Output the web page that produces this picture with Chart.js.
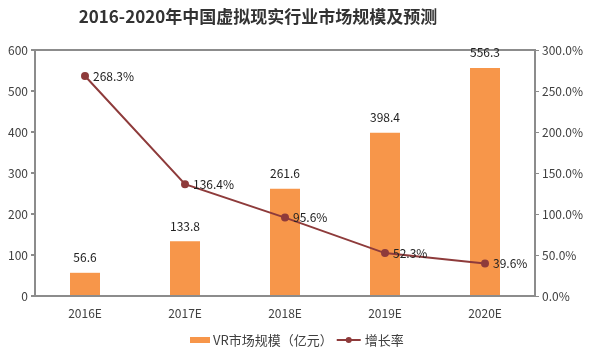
<!DOCTYPE html>
<html><head><meta charset="utf-8">
<script src="https://cdn.jsdelivr.net/npm/chart.js@4"></script>
<style>html,body{margin:0;padding:0;background:#fff;}#wrap{width:600px;height:355px;position:relative;}</style>
</head><body><div id="wrap"><canvas id="c" width="600" height="355"></canvas></div>
<script>
const categories = ["2016E", "2017E", "2018E", "2019E", "2020E"];
const marketSize = [56.6, 133.8, 261.6, 398.4, 556.3];
const growthRate = [268.3, 136.4, 95.6, 52.3, 39.6];
const titleText = "2016-2020年中国虚拟现实行业市场规模及预测";
const barLabel = "VR市场规模（亿元）";
const lineLabel = "增长率";

const FONT = '"Noto Sans CJK SC", "Noto Sans", sans-serif';
const BAR_COLOR = '#f7964a';
const LINE_COLOR = '#8e3b3b';
const AXIS_COLOR = '#8c8c8c';
const TEXT_COLOR = '#404040';

const deco = {
  id: 'deco',
  afterDatasetsDraw(chart) {
    const ctx = chart.ctx;
    ctx.save();
    const barMeta = chart.getDatasetMeta(0);
    ctx.font = '12px ' + FONT;
    ctx.fillStyle = '#222';
    ctx.textAlign = 'center';
    ctx.textBaseline = 'middle';
    barMeta.data.forEach((el, i) => {
      ctx.fillText(marketSize[i].toFixed(1), el.x, el.y - 15);
    });
    const lineMeta = chart.getDatasetMeta(1);
    ctx.textAlign = 'left';
    lineMeta.data.forEach((el, i) => {
      ctx.fillText(growthRate[i].toFixed(1) + '%', el.x + 8, el.y);
    });
    // title
    ctx.font = 'bold 17px ' + FONT;
    ctx.fillStyle = '#333';
    ctx.textAlign = 'center';
    ctx.fillText(titleText, 258, 17);
    // legend
    ctx.fillStyle = BAR_COLOR;
    ctx.fillRect(190, 337, 20, 6);
    ctx.font = '13px ' + FONT;
    ctx.fillStyle = TEXT_COLOR;
    ctx.textAlign = 'left';
    ctx.fillText(barLabel, 213, 340);
    const tw = ctx.measureText(barLabel).width;
    const lx = 213 + tw + 4;
    ctx.strokeStyle = LINE_COLOR;
    ctx.lineWidth = 2;
    ctx.beginPath(); ctx.moveTo(lx, 340); ctx.lineTo(lx + 24, 340); ctx.stroke();
    ctx.fillStyle = LINE_COLOR;
    ctx.beginPath(); ctx.arc(lx + 12, 340, 3, 0, Math.PI * 2); ctx.fill();
    ctx.fillStyle = TEXT_COLOR;
    ctx.fillText(lineLabel, lx + 28, 340);
    ctx.restore();
  }
};

new Chart(document.getElementById('c'), {
  data: {
    labels: categories,
    datasets: [
      { type: 'bar', label: barLabel, data: marketSize, backgroundColor: BAR_COLOR,
        yAxisID: 'y', barPercentage: 0.3, categoryPercentage: 1, order: 2 },
      { type: 'line', label: lineLabel, data: growthRate, borderColor: LINE_COLOR,
        backgroundColor: LINE_COLOR, borderWidth: 2, pointRadius: 3, pointHoverRadius: 3,
        yAxisID: 'y1', order: 1, tension: 0 }
    ]
  },
  options: {
    responsive: false,
    animation: false,
    layout: { padding: { top: 50, left: 0, right: 0, bottom: 0 } },
    plugins: { legend: { display: false }, title: { display: false }, tooltip: { enabled: false } },
    scales: {
      x: {
        grid: { display: false, drawTicks: false },
        border: { color: AXIS_COLOR, width: 2 },
        ticks: { color: TEXT_COLOR, font: { size: 12, family: FONT }, padding: 10 },
        afterFit(s) { s.height = 59; }
      },
      y: {
        position: 'left', min: 0, max: 600,
        grid: { display: true, drawOnChartArea: true, tickLength: 4, tickColor: AXIS_COLOR,
          color: (c) => c.tick && c.tick.value === 600 ? AXIS_COLOR : 'rgba(0,0,0,0)', lineWidth: 2 },
        border: { color: AXIS_COLOR, width: 2 },
        ticks: { stepSize: 100, color: TEXT_COLOR, font: { size: 12, family: FONT }, padding: 3 },
        afterFit(s) { s.width = 35; }
      },
      y1: {
        position: 'right', min: 0, max: 300,
        grid: { drawOnChartArea: false, tickLength: 4, tickColor: AXIS_COLOR },
        border: { color: AXIS_COLOR, width: 2 },
        ticks: { stepSize: 50, color: TEXT_COLOR, font: { size: 12, family: FONT }, padding: 3,
          callback: (v) => v.toFixed(1) + '%' },
        afterFit(s) { s.width = 65; }
      }
    }
  },
  plugins: [deco]
});
</script>
</body></html>
